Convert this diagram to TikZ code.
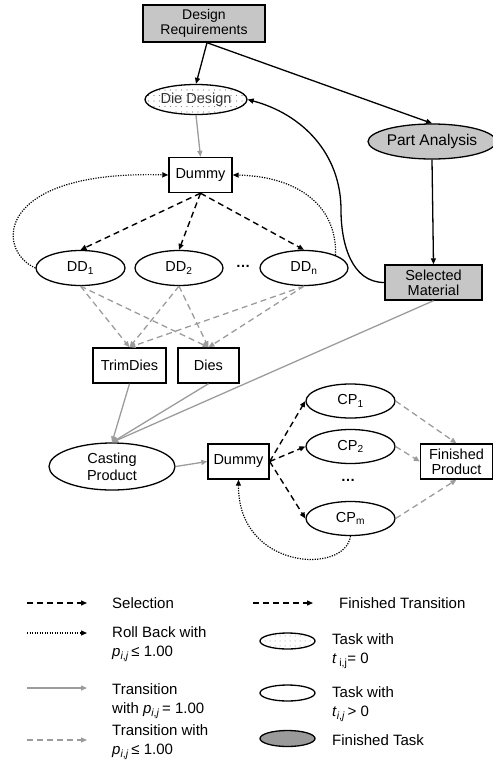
\documentclass[tikz,border=0pt]{standalone}
\usepackage{fontspec}
\setmainfont{Liberation Sans}
\usetikzlibrary{arrows.meta,shapes.geometric,patterns.meta}
\definecolor{boxgray}{HTML}{C6C6C6}
\definecolor{darkgray}{HTML}{9A9A9A}
\definecolor{lgray}{HTML}{9C9C9C}
\begin{document}
\begin{tikzpicture}[x=1pt,y=-1pt,
  font=\fontsize{14.5}{15}\selectfont,
  box/.style={draw,line width=1.4pt,minimum height=35pt,inner sep=1pt,align=center},
  gbox/.style={box,fill=boxgray},
  task/.style={ellipse,draw,line width=1.3pt,inner sep=0pt,align=center},
  tip/.style={-{Triangle[length=6pt,width=5pt]}},
  sel/.style={tip,line width=1.4pt,dash pattern=on 6pt off 4pt},
  roll/.style={tip,line width=1.2pt,dash pattern=on 1.2pt off 1.3pt},
  tr/.style={line width=1.3pt,draw=lgray,-{Triangle[length=6pt,width=5pt,fill=lgray]}},
  ptr/.style={tr,dash pattern=on 6pt off 4pt},
  blk/.style={tip,line width=1.3pt},
  legtext/.style={anchor=west,align=left,inner sep=0pt,font=\fontsize{15}{19.5}\selectfont}]
\useasboundingbox (0,0) rectangle (493,761);

% ---- nodes ----
\node[gbox, minimum width=122pt, minimum height=37pt, font=\fontsize{14}{15}\selectfont] (dr) at (204,23.5) {Design\\Requirements};
\node[task, minimum width=102pt, minimum height=30pt,
      pattern={Dots[distance=5.5pt,radius=0.55pt]}, pattern color=gray] (dd) at (196,99.5) {\textcolor{black!80}{Die Design}};
\node[task, fill=boxgray, minimum width=118pt, minimum height=35pt, font=\fontsize{15.5}{16}\selectfont] (pa) at (432,141.5) {Part Analysis};
\node[box, minimum width=63pt] (d1) at (200.5,175) {Dummy};
\node[task, minimum width=89pt, minimum height=35pt] (dd1) at (80.5,268) {DD\textsubscript{1}};
\node[task, minimum width=88pt, minimum height=35pt] (dd2) at (179,268) {DD\textsubscript{2}};
\node (dots1) at (243,266) {\bfseries\ldots};
\node[task, minimum width=88pt, minimum height=35pt] (ddn) at (304,268) {DD\textsubscript{n}};
\node[gbox, minimum width=97pt] (sm) at (433.5,282.5) {Selected\\Material};
\node[box, minimum width=73pt] (td) at (129.5,365.5) {TrimDies};
\node[box, minimum width=61pt] (dies) at (208.5,365.5) {Dies};
\node[task, minimum width=126pt, minimum height=47pt, font=\fontsize{14.5}{17}\selectfont] (cp) at (112,466.5) {Casting\\Product};
\node[box, minimum width=61pt] (d2) at (238.5,461.5) {Dummy};
\node[task, minimum width=89pt, minimum height=34pt] (cp1) at (350.5,401) {CP\textsubscript{1}};
\node[task, minimum width=89pt, minimum height=34pt] (cp2) at (350.5,446.5) {CP\textsubscript{2}};
\node (dots2) at (348,480) {\bfseries\ldots};
\node[task, minimum width=89pt, minimum height=34pt] (cpm) at (350.5,518.5) {CP\textsubscript{m}};
\node[box, minimum width=72pt] (fp) at (456.5,461.5) {Finished\\Product};

% ---- connectors ----
\draw[blk] ([xshift=3pt]dr.south) -- (dd.north);
\draw[blk] ([xshift=3pt]dr.south) -- (pa.north);
\draw[tr] (dd.south) -- (d1.north);
\draw[blk] (pa.south) -- (sm.north);
\coordinate (bend) at (341,210);
\draw[blk] (sm.west) to[out=180,in=-90] (bend) to[out=90,in=-15] (dd.east);

\draw[roll] (dd1.west) .. controls (-5,250) and (-5,170) .. (d1.west);
\draw[roll] (ddn.north east) .. controls (337,200) and (290,176) .. (d1.east);

\draw[sel] (d1.south) -- (dd1.north);
\draw[sel] (d1.south) -- (dd2.north);
\draw[sel] (d1.south) -- (ddn.north);

\foreach \s in {dd1,dd2,ddn}{
  \draw[ptr] (\s.south) -- (td.north);
  \draw[ptr] (\s.south) -- (dies.north);
}

\draw[tr] (td.south) -- (cp.north);
\draw[tr] (dies.south) -- (cp.north);
\draw[tr] (sm.south) -- (cp.north);
\draw[tr] (cp.east) -- (d2.west);

\draw[sel] (d2.east) -- (cp1.west);
\draw[sel] (d2.east) -- (cp2.west);
\draw[sel] (d2.east) -- (cpm.west);

\draw[ptr] (cp1.east) -- (fp.north);
\draw[ptr] (cp2.east) -- (fp.west);
\draw[ptr] (cpm.east) -- (fp.south);

\draw[roll] (cpm.south) .. controls (345,575) and (238,570) .. (d2.south);

% ---- legend ----
\coordinate (l1a) at (27,603);  \coordinate (l1b) at (87,603);
\coordinate (r1a) at (253,603); \coordinate (r1b) at (313,603);
\coordinate (l2a) at (27,633);  \coordinate (l2b) at (87,633);
\coordinate (l3a) at (27,688);  \coordinate (l3b) at (87,688);
\coordinate (l4a) at (27,740);  \coordinate (l4b) at (87,740);
\draw[sel,line width=1.3pt] (l1a) -- (l1b);
\draw[sel,line width=1.3pt] (r1a) -- (r1b);
\draw[roll] (l2a) -- (l2b);
\draw[tr] (l3a) -- (l3b);
\draw[ptr] (l4a) -- (l4b);

\node[legtext] (t1) at (112,603) {Selection};
\node[legtext] (t2) at (339,603) {Finished Transition};
\node[legtext] (t3) at (112,644) {Roll Back with\\\textit{p}\textsubscript{\textit{i},\textit{j}}\,≤ 1.00};
\node[legtext] (t4) at (112,701) {Transition\\with \textit{p}\textsubscript{\textit{i},\textit{j}}\,= 1.00};
\node[legtext] (t5) at (112,742) {Transition with\\\textit{p}\textsubscript{\textit{i},\textit{j}}\,≤ 1.00};

\node[task, minimum width=55pt, minimum height=16pt,
      pattern={Dots[distance=5pt,radius=0.5pt]}, pattern color=gray] (e1) at (287.5,641) {};
\node[task, minimum width=55pt, minimum height=16pt] (e2) at (287.5,693) {};
\node[task, fill=darkgray, minimum width=55pt, minimum height=16pt] (e3) at (287.5,738.5) {};
\node[legtext] (t6) at (332,651) {Task with\\\textit{t}\,\textsubscript{i,j}= 0};
\node[legtext] (t7) at (332,704) {Task with\\\textit{t}\textsubscript{\textit{i},\textit{j}}\,> 0};
\node[legtext] (t8) at (332,740) {Finished Task};
\end{tikzpicture}
\end{document}
